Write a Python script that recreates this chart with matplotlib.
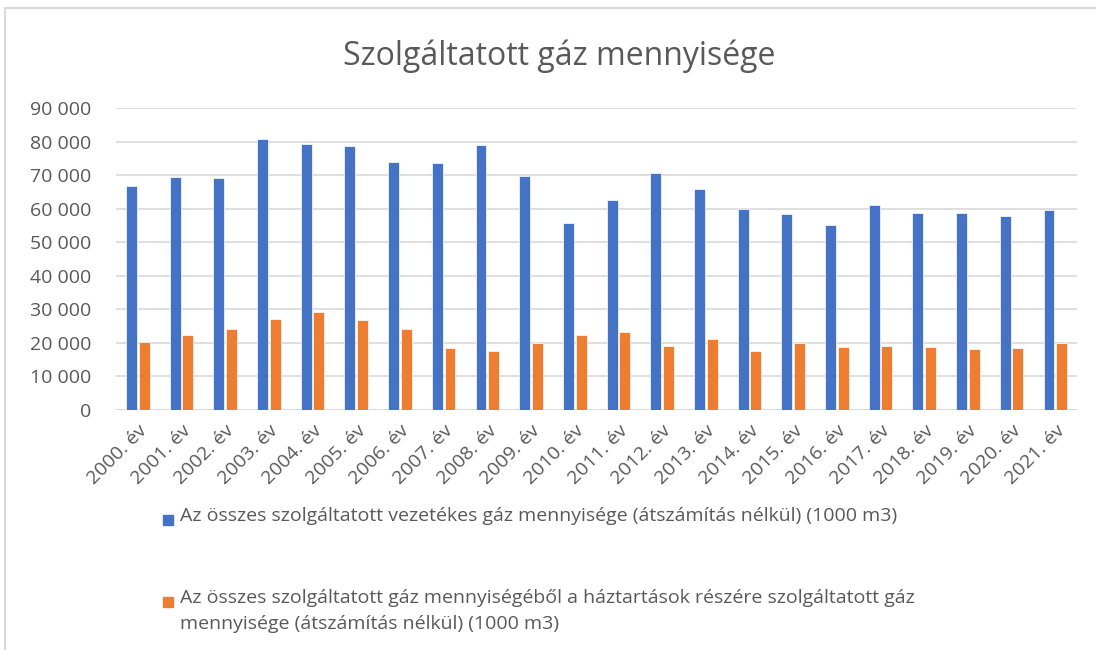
import numpy as np
import matplotlib
matplotlib.use("Agg")
from matplotlib import pyplot as plt
from matplotlib.patches import Rectangle
from matplotlib.ticker import FuncFormatter

plt.rcParams['font.family'] = ['Open Sans', 'DejaVu Sans']

years = [f"{y}. év" for y in range(2000, 2022)]
total_gas = [66770, 69450, 69050, 80900, 79300, 78600, 73930, 73630, 79000, 69850, 55620,
             62490, 70550, 65870, 59800, 58310, 55220, 61000, 58710, 58710, 57910, 59500]
household_gas = [20400, 22290, 24180, 27260, 29150, 26870, 24180, 18410, 17710, 20000, 22290,
                 23380, 19200, 21090, 17710, 20000, 18810, 19200, 18810, 18110, 18410, 20000]
label_total = "Az összes szolgáltatott vezetékes gáz mennyisége (átszámítás nélkül) (1000 m3)"
label_house = ("Az összes szolgáltatott gáz mennyiségéből a háztartások részére szolgáltatott gáz\n"
               "mennyisége (átszámítás nélkül) (1000 m3)")

blue = "#4472C4"
orange = "#ED7D31"
text_col = "#595959"

fig = plt.figure(figsize=(10.96, 6.5), dpi=100)
ax = fig.add_axes([0.1058, 0.3692, 0.877, 0.4646])

x = np.arange(len(years))
w = 0.25
ax.bar(x - 0.145, total_gas, w, color=blue, edgecolor="white", linewidth=0.5, zorder=3)
ax.bar(x + 0.145, household_gas, w, color=orange, edgecolor="white", linewidth=0.5, zorder=3)

ax.set_xlim(-0.5, len(years) - 0.5)
ax.set_ylim(0, 90000)
ax.set_yticks(np.arange(0, 90001, 10000))
ax.yaxis.set_major_formatter(FuncFormatter(lambda v, p: f"{int(v):,}".replace(",", " ")))
ax.grid(axis="y", color="#D9D9D9", linewidth=1.2, zorder=0)
for s in ax.spines.values():
    s.set_visible(False)
ax.tick_params(axis="both", length=0, colors=text_col, labelsize=14)
ax.tick_params(axis="y", pad=18)
ax.tick_params(axis="x", pad=8)
ax.set_xticks(x)
ax.set_xticklabels(years, rotation=45, ha="right", rotation_mode="anchor", fontsize=14)
ax.axhline(0, color="#D9D9D9", linewidth=1.2, zorder=2)

fig.text(0.51, 0.913, "Szolgáltatott gáz mennyisége", ha="center", va="center", fontsize=23, color=text_col)

# legend drawn by hand so the marker sits on the first line of the wrapped label
fig_w, fig_h = 1096, 650
for y_px, col, lab in [(520, blue, label_total), (602, orange, label_house)]:
    fig.patches.append(Rectangle((163 / fig_w, 1 - (y_px + 5) / fig_h), 10 / fig_w, 10 / fig_h,
                                 transform=fig.transFigure, color=col))
    fig.text(180 / fig_w, 1 - (y_px - 13) / fig_h, lab, ha="left", va="top",
             fontsize=14, color=text_col, linespacing=1.6)

fig.patches.append(Rectangle((0.005, -0.01), 1.0, 0.998, transform=fig.transFigure,
                             fill=False, edgecolor="#D9D9D9", linewidth=1.5))

fig.savefig("out.png", dpi=100)
